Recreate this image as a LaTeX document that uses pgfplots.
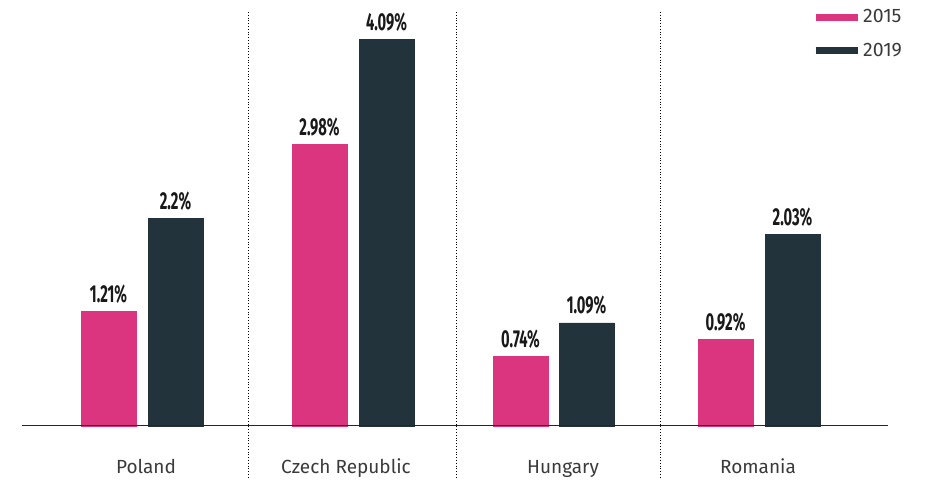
\documentclass[border=0pt]{standalone}
\usepackage{pgfplots}
\pgfplotsset{compat=1.18}
\usepackage{fontspec}
\setmainfont{Fira Sans}
\definecolor{pinkc}{HTML}{DC3580}
\definecolor{darkc}{HTML}{22333B}
\definecolor{txt}{HTML}{3A3A3A}

% x positions are bar centres in picture pixels
\pgfplotstableread{
x y lab
108.5 1.21 1.21
319.5 2.98 2.98
520.5 0.74 0.74
725.5 0.92 0.92
}\tA
\pgfplotstableread{
x y lab
175.5 2.20 2.2
386.5 4.09 4.09
586.5 1.09 1.09
792.5 2.03 2.03
}\tB

\begin{document}
\begin{tikzpicture}
\begin{axis}[
  width=926pt, height=477pt, scale only axis,
  xmin=0, xmax=926, ymin=-0.540, ymax=4.508,
  hide axis, clip=false,
  ybar, bar width=55, bar shift=0pt,
  leg/.style={legend image code/.code={\draw[##1, line width=7pt] (0pt,0pt)--(42pt,0pt);}},
  point meta=explicit symbolic,
  nodes near coords={\scalebox{0.6}[1]{\bfseries\pgfplotspointmeta\%}},
  every node near coord/.style={anchor=base, inner sep=0pt, yshift=9pt,
    font=\fontsize{24.5}{24.5}\selectfont, text=black!90},
  legend style={at={(axis cs:812,4.428)}, anchor=north west, draw=none, fill=none,
    inner sep=0pt, font=\fontsize{19.5}{19.5}\selectfont, text=txt, row sep=15pt,
    cells={anchor=west}},
]
\addplot[fill=pinkc, draw=pinkc, bar shift=0pt, leg] table[x=x, y=y, meta=lab] {\tA};
\addlegendentry{2015}
\addplot[fill=darkc, draw=darkc, bar shift=0pt, leg] table[x=x, y=y, meta=lab] {\tB};
\addlegendentry{2019}

% keep the whole canvas in the bounding box
\path (axis cs:0,-0.540) rectangle (axis cs:926,4.508);
\draw[black!85, line width=1pt] (axis cs:22,0) -- (axis cs:888,0);
\pgfplotsinvokeforeach{248,456,660}{
  \draw[black, dotted, line width=0.8pt] (axis cs:#1,4.381) -- (axis cs:#1,-0.540);
}
\node[anchor=base, font=\fontsize{19}{19}\selectfont, text=txt] at (axis cs:146,-0.508) {Poland};
\node[anchor=base, font=\fontsize{19}{19}\selectfont, text=txt] at (axis cs:346,-0.508) {Czech Republic};
\node[anchor=base, font=\fontsize{19}{19}\selectfont, text=txt] at (axis cs:563,-0.508) {Hungary};
\node[anchor=base, font=\fontsize{19}{19}\selectfont, text=txt] at (axis cs:758,-0.508) {Romania};
\end{axis}
\end{tikzpicture}
\end{document}
